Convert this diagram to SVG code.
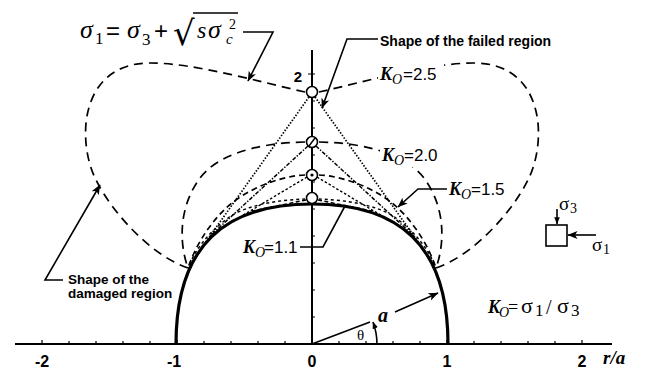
<svg xmlns="http://www.w3.org/2000/svg" width="650" height="369" viewBox="0 0 650 369">
<defs>
<marker id="ah" viewBox="0 0 10 8" refX="9.5" refY="4" markerWidth="11" markerHeight="8" orient="auto" markerUnits="userSpaceOnUse"><path d="M0,0 L10,4 L0,8 L2.5,4 z" fill="#000"/></marker>
<marker id="ahs" viewBox="0 0 10 8" refX="9.5" refY="4" markerWidth="7" markerHeight="6" orient="auto" markerUnits="userSpaceOnUse"><path d="M0,0 L10,4 L0,8 z" fill="#000"/></marker>
</defs>
<style>
text{fill:#000}
.sans{font-family:"Liberation Sans",Arial,sans-serif}
.b{font-weight:bold}
.serif{font-family:"Liberation Serif","Times New Roman",serif}
.it{font-style:italic}
.ax{stroke:#000;stroke-width:2;fill:none}
.tick{stroke:#000;stroke-width:1.2}
.solid{stroke:#000;stroke-width:3.2;fill:none}
.dmg{stroke:#000;stroke-width:1.7;fill:none;stroke-dasharray:9 6}
.d11{stroke:#000;stroke-width:1.4;fill:none;stroke-dasharray:3 3}
.f25{stroke:#000;stroke-width:1.7;fill:none;stroke-dasharray:1.5 1.6}
.f20{stroke:#000;stroke-width:1.5;fill:none;stroke-dasharray:4 1.5 1.4 1.5}
.f15{stroke:#000;stroke-width:1.4;fill:none;stroke-dasharray:2.5 2}
.f11{stroke:#000;stroke-width:1.5;fill:none;stroke-dasharray:4 2.5}
.lead{stroke:#000;stroke-width:1.6;fill:none}
.mk{fill:#fff;stroke:#000;stroke-width:1.6}
.bg{fill:#fff}
</style>

<g id="axes">
<path class="ax" d="M15,344 H612 M312,344 V50"/>
<path class="tick" d="M42,344v-4 M69,344v-3 M96,344v-3 M123,344v-3 M150,344v-3 M177,344v-4 M204,344v-3 M231,344v-3 M258,344v-3 M285,344v-3 M339,344v-3 M366,344v-3 M393,344v-3 M420,344v-3 M447,344v-4 M474,344v-3 M501,344v-3 M528,344v-3 M555,344v-3 M582,344v-4"/>
<path class="tick" d="M312,317h3 M312,290h3 M312,263h3 M312,236h3 M312,209h3 M312,182h3 M312,155h3 M312,128h3 M312,101h3 M308,74h7"/>
<g class="sans b" font-size="16" text-anchor="middle">
<text x="42" y="367">-2</text>
<text x="174" y="367">-1</text>
<text x="312" y="367">0</text>
<text x="447" y="367">1</text>
<text x="582" y="367">2</text>
</g>
<text class="sans b" font-size="15" x="298" y="82" text-anchor="middle">2</text>
<text class="serif it b" font-size="19" x="603" y="364">r/a</text>
</g>

<g id="damaged-curves">
<path class="dmg" d="M305,92 C260,82 195,63 150,63 C80,63 76,140 96,180 C112,212 150,255 188,268"/>
<path class="dmg" d="M319,92 C364,82 429,63 474,63 C544,63 548,140 528,180 C512,212 474,255 436,268"/>
<path class="dmg" d="M305,142 C250,143 215,158 200,178 C180,205 178,240 188,268"/>
<path class="dmg" d="M319,142 C374,143 409,158 424,178 C444,205 446,240 436,268"/>
<path class="dmg" style="stroke-dasharray:6 4" d="M305,175 C279,176 244,190 224,210 C206,228 194,250 188,268"/>
<path class="dmg" style="stroke-dasharray:6 4" d="M319,175 C345,176 380,190 400,210 C418,228 430,250 436,268"/>
<path class="d11" d="M305,199 C280,200 248,204 228,218 C208,233 195,250 188,268"/>
<path class="d11" d="M319,199 C344,200 376,204 396,218 C416,233 429,250 436,268"/>
</g>

<g id="failed-lines">
<path class="f25" d="M309,97 L205,243 M315,97 L419,243"/>
<path class="f20" d="M308,146 L210,236 M316,146 L414,236"/>
<path class="f15" d="M307,177 L225,226 M317,177 L399,226"/>
<path class="f11" d="M306,200 L252,211 M318,200 L372,211"/>
</g>

<g id="opening">
<path class="solid" d="M176,344 C176,245 225,204 312,204 C399,204 448,245 448,344"/>
</g>

<g id="markers">
<circle class="mk" cx="312" cy="92" r="5.5"/>
<circle class="mk" cx="312" cy="142" r="5.5"/>
<path d="M309,146 L315,138" stroke="#000" stroke-width="1.4"/>
<circle class="mk" cx="312" cy="175" r="5.5"/>
<circle cx="312" cy="175" r="1.6" fill="#000"/>
<circle class="mk" cx="312" cy="198" r="5.5"/>
</g>

<g id="connectors">
<path class="lead" d="M243,32 H273 L248,81" marker-end="url(#ah)"/>
<path class="lead" d="M378,39 H347 L322,108" marker-end="url(#ah)"/>
<path class="lead" d="M63,280 H45 L100,185" marker-end="url(#ah)"/>
<path class="lead" d="M447,189 H418 L398,207" marker-end="url(#ah)"/>
<path class="lead" d="M300,247 H323 L345,206"/>
<path class="lead" stroke-width="2.2" d="M395,312 L438,293" marker-end="url(#ah)"/>
<path class="lead" stroke-width="2" d="M312,344 L370,322"/>
<path class="lead" stroke-width="1.4" d="M377,344 A65,65 0 0 0 373,322" marker-end="url(#ahs)"/>
</g>

<g id="formula">
<text class="serif it" font-size="26" x="80" y="38">σ</text>
<text class="serif" font-size="17" x="95" y="44">1</text>
<text class="sans" font-size="24" x="106" y="39">=</text>
<text class="serif it" font-size="26" x="127" y="38">σ</text>
<text class="serif" font-size="17" x="142" y="45">3</text>
<text class="sans" font-size="24" x="154" y="39">+</text>
<text font-family="'DejaVu Serif',serif" font-size="34" x="173" y="45">√</text>
<path d="M193,13 H238" stroke="#000" stroke-width="1.6"/>
<text class="serif it" font-size="24" x="197" y="38">s</text>
<text class="serif it" font-size="26" x="208" y="38">σ</text>
<text class="serif it" font-size="15" x="226" y="44">c</text>
<text class="serif" font-size="14" x="229" y="29">2</text>
</g>

<g id="label-failed">
<text class="sans b" font-size="14" x="380" y="46">Shape of the failed region</text>
</g>
<g id="label-damaged">
<text class="sans b" font-size="13.5" x="68" y="284">Shape of the</text>
<text class="sans b" font-size="13.5" x="68" y="298">damaged region</text>
</g>

<g id="label-k25">
<rect class="bg" x="378" y="60" width="66" height="25"/>
<text class="serif it b" font-size="18" x="380" y="80">K</text>
<text class="serif it" font-size="14" x="392" y="84">O</text>
<text class="sans" font-size="17" x="403" y="80">=2.5</text>
</g>
<g id="label-k20">
<rect class="bg" x="380" y="145" width="64" height="22"/>
<text class="serif it b" font-size="18" x="382" y="161">K</text>
<text class="serif it" font-size="14" x="394" y="165">O</text>
<text class="sans" font-size="17" x="404" y="161">=2.0</text>
</g>
<g id="label-k15">
<text class="serif it b" font-size="18" x="449" y="195">K</text>
<text class="serif it" font-size="14" x="461" y="199">O</text>
<text class="sans" font-size="17" x="471" y="195">=1.5</text>
</g>
<g id="label-k11">
<text class="serif it b" font-size="18" x="243" y="253">K</text>
<text class="serif it" font-size="14" x="255" y="257">O</text>
<text class="sans" font-size="17" x="264" y="253">=1.1</text>
</g>
<g id="label-k-def">
<text class="serif it b" font-size="18" x="488" y="313">K</text>
<text class="serif it" font-size="14" x="499" y="317">O</text>
<text class="serif" font-size="18" x="508" y="313">=</text>
<text class="serif" font-size="22" x="521" y="313">σ</text>
<text class="serif" font-size="17" x="535" y="316">1</text>
<text class="serif" font-size="20" x="546" y="314">/</text>
<text class="serif" font-size="22" x="557" y="313">σ</text>
<text class="serif" font-size="17" x="571" y="316">3</text>
</g>

<g id="label-a">
<text class="serif it b" font-size="20" x="378" y="322">a</text>
<text class="serif" font-size="15" x="357" y="340">θ</text>
</g>

<g id="stress-element">
<rect x="546" y="225" width="21" height="21" fill="none" stroke="#000" stroke-width="1.6"/>
<path class="lead" d="M557,209 V224" marker-end="url(#ahs)"/>
<path class="lead" stroke-width="2.5" d="M596,235 H568" marker-end="url(#ah)"/>
<text class="serif" font-size="19" x="559" y="210">σ</text>
<text class="serif" font-size="14" x="570" y="213">3</text>
<text class="serif" font-size="19" x="592" y="251">σ</text>
<text class="serif" font-size="14" x="603" y="254">1</text>
</g>
</svg>
